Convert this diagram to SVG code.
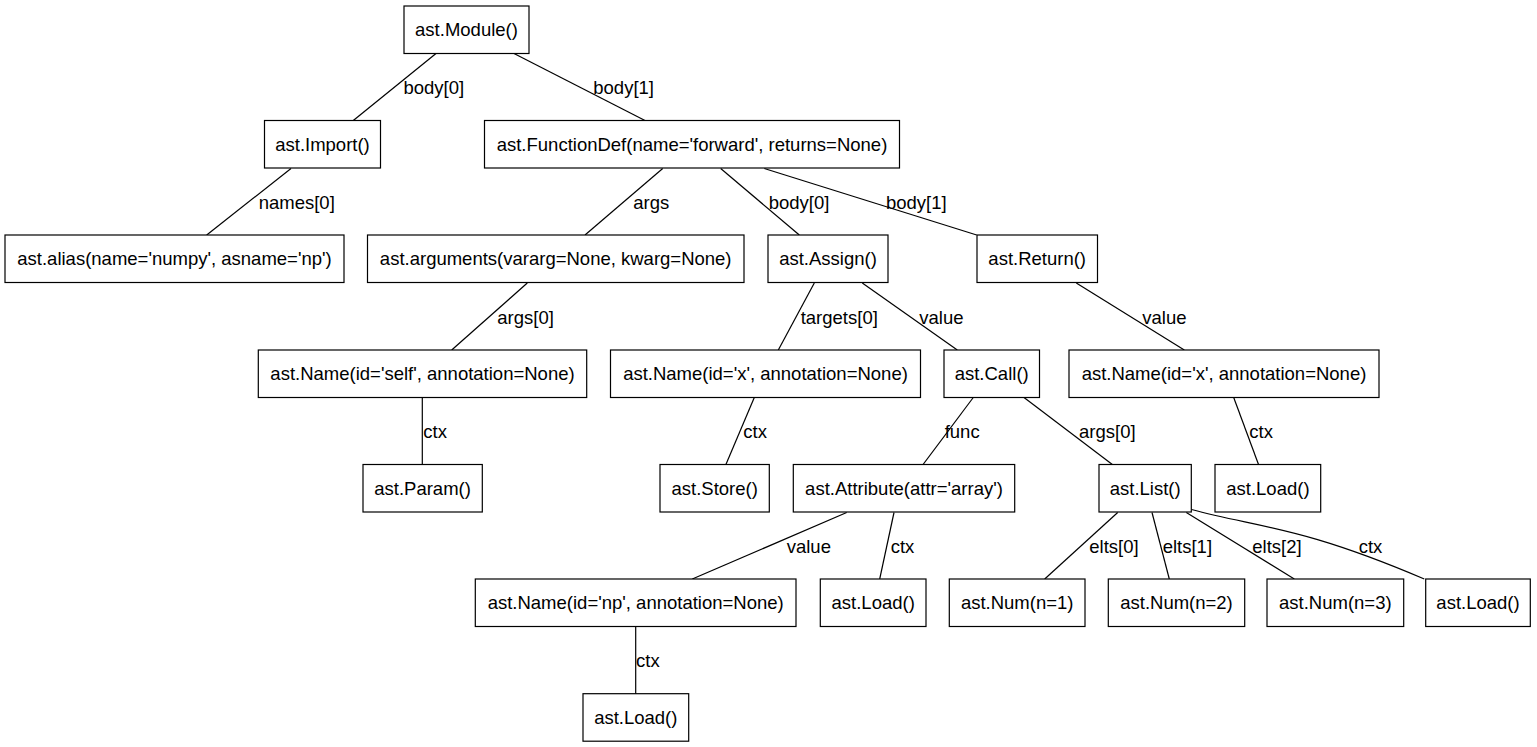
<svg xmlns="http://www.w3.org/2000/svg" width="1537" height="747" viewBox="0 0 1537 747">
<style>
.n rect{fill:#fff;stroke:#000;stroke-width:1.2}
.n text{font-family:"Liberation Sans",Arial,sans-serif;font-size:18.5px;fill:#000;text-anchor:middle}
.e path{fill:none;stroke:#000;stroke-width:1.2}
.e text{font-family:"Liberation Sans",Arial,sans-serif;font-size:18.5px;fill:#000}
</style>
<rect width="1537" height="747" fill="#fff"/>
<g id="edges" class="e">
<path d="M436,53.5 L353.3,120.5"/><text x="403.5" y="94">body[0]</text>
<path d="M514,53.5 L645,120.5"/><text x="593.3" y="94">body[1]</text>
<path d="M291,168.5 L206.7,235"/><text x="258.7" y="208.5">names[0]</text>
<path d="M662.7,168.5 L585,235"/><text x="633.3" y="208.5">args</text>
<path d="M720.7,168.5 L799.3,235"/><text x="768.7" y="208.5">body[0]</text>
<path d="M764.3,168.5 L976.7,235"/><text x="886" y="208.5">body[1]</text>
<path d="M527.3,283 L451.7,350"/><text x="497.3" y="323.5">args[0]</text>
<path d="M814.3,283 L778.3,350"/><text x="800.7" y="323.5">targets[0]</text>
<path d="M862.3,283 L957.3,350"/><text x="919.3" y="323.5">value</text>
<path d="M1076.3,283 L1184.3,350"/><text x="1142.3" y="323.5">value</text>
<path d="M422.3,397.5 L422.3,465"/><text x="423.3" y="438">ctx</text>
<path d="M754.3,397.5 L725.7,465"/><text x="743.3" y="438">ctx</text>
<path d="M973.3,397.5 L922.7,465"/><text x="944.7" y="438">func</text>
<path d="M1024,397.5 L1113,465"/><text x="1079" y="438">args[0]</text>
<path d="M1233.7,397.5 L1258.7,465"/><text x="1249.3" y="438">ctx</text>
<path d="M846.7,512.5 L692.3,579"/><text x="786.7" y="552.7">value</text>
<path d="M894,512.5 L879.7,579"/><text x="890.7" y="552.7">ctx</text>
<path d="M1117.7,512.5 L1044.7,579"/><text x="1089.3" y="552.7">elts[0]</text>
<path d="M1152,512.5 L1169.3,579"/><text x="1162.7" y="552.7">elts[1]</text>
<path d="M1186.3,512.5 L1294.3,579"/><text x="1252.3" y="552.7">elts[2]</text>
<path d="M1191.5,509.5 C1260,528 1300,526 1424.3,579"/><text x="1358.7" y="552.7">ctx</text>
<path d="M635.7,627 L635.7,694"/><text x="636" y="667.3">ctx</text>
</g>
<g id="n_module" class="n"><rect x="404" y="6" width="125" height="47.5"/><text x="466.5" y="36.3">ast.Module()</text></g>
<g id="n_import" class="n"><rect x="264.5" y="120.5" width="116" height="47.5"/><text x="322.5" y="150.8">ast.Import()</text></g>
<g id="n_funcdef" class="n"><rect x="484.5" y="120.5" width="415" height="47.5"/><text x="692" y="150.8">ast.FunctionDef(name='forward', returns=None)</text></g>
<g id="n_alias" class="n"><rect x="5" y="235" width="339" height="47.5"/><text x="174.5" y="265.3">ast.alias(name='numpy', asname='np')</text></g>
<g id="n_arguments" class="n"><rect x="367.5" y="235" width="376.5" height="47.5"/><text x="555.7" y="265.3">ast.arguments(vararg=None, kwarg=None)</text></g>
<g id="n_assign" class="n"><rect x="768" y="235" width="120" height="47.5"/><text x="828" y="265.3">ast.Assign()</text></g>
<g id="n_return" class="n"><rect x="977" y="235" width="120.5" height="47.5"/><text x="1037.2" y="265.3">ast.Return()</text></g>
<g id="n_name_self" class="n"><rect x="258.3" y="350" width="328.4" height="47.5"/><text x="422.5" y="380.3">ast.Name(id='self', annotation=None)</text></g>
<g id="n_name_x" class="n"><rect x="610.5" y="350" width="310" height="47.5"/><text x="765.5" y="380.3">ast.Name(id='x', annotation=None)</text></g>
<g id="n_call" class="n"><rect x="944" y="350" width="95.5" height="47.5"/><text x="991.7" y="380.3">ast.Call()</text></g>
<g id="n_name_x2" class="n"><rect x="1069" y="350" width="310" height="47.5"/><text x="1224" y="380.3">ast.Name(id='x', annotation=None)</text></g>
<g id="n_param" class="n"><rect x="363" y="464.5" width="119.3" height="47.5"/><text x="422.6" y="494.8">ast.Param()</text></g>
<g id="n_store" class="n"><rect x="660" y="464.5" width="109.3" height="47.5"/><text x="714.7" y="494.8">ast.Store()</text></g>
<g id="n_attribute" class="n"><rect x="793.3" y="464.5" width="221.4" height="47.5"/><text x="904" y="494.8">ast.Attribute(attr='array')</text></g>
<g id="n_list" class="n"><rect x="1099" y="464.5" width="92.3" height="47.5"/><text x="1145.2" y="494.8">ast.List()</text></g>
<g id="n_load_r" class="n"><rect x="1215" y="464.5" width="105.7" height="47.5"/><text x="1267.9" y="494.8">ast.Load()</text></g>
<g id="n_name_np" class="n"><rect x="475.3" y="579" width="320.7" height="47.5"/><text x="635.7" y="609.3">ast.Name(id='np', annotation=None)</text></g>
<g id="n_load_attr" class="n"><rect x="820.3" y="579" width="105.7" height="47.5"/><text x="873.2" y="609.3">ast.Load()</text></g>
<g id="n_num1" class="n"><rect x="949.3" y="579" width="135.7" height="47.5"/><text x="1017.2" y="609.3">ast.Num(n=1)</text></g>
<g id="n_num2" class="n"><rect x="1108.3" y="579" width="136.4" height="47.5"/><text x="1176.5" y="609.3">ast.Num(n=2)</text></g>
<g id="n_num3" class="n"><rect x="1267" y="579" width="136.7" height="47.5"/><text x="1335.3" y="609.3">ast.Num(n=3)</text></g>
<g id="n_load_list" class="n"><rect x="1425.7" y="579" width="104.6" height="47.5"/><text x="1478" y="609.3">ast.Load()</text></g>
<g id="n_load_np" class="n"><rect x="583" y="693.7" width="105.7" height="47.5"/><text x="635.8" y="724">ast.Load()</text></g>
</svg>
